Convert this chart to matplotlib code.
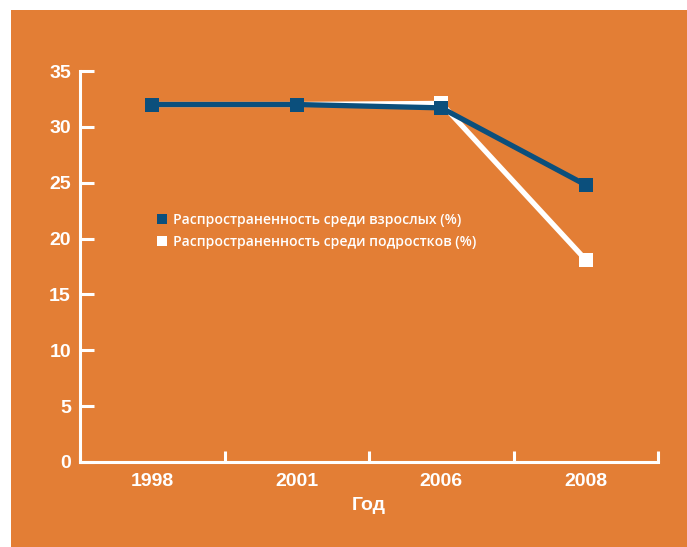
import matplotlib
matplotlib.use("Agg")
import matplotlib.pyplot as plt
from matplotlib.patches import Rectangle
from matplotlib.lines import Line2D

years = ["1998", "2001", "2006", "2008"]
adults = [32.0, 32.0, 31.7, 24.8]
teens = [32.0, 32.0, 32.1, 18.1]
labels = ["Распространенность среди взрослых (%)",
          "Распространенность среди подростков (%)"]

orange = "#E37E35"
blue = "#0B4F7C"

fig = plt.figure(figsize=(6.87, 5.47), dpi=100)
fig.patch.set_facecolor("white")
fig.patches.append(Rectangle((11/687, 0), 1 - 11/687, 1 - 10/547,
                             transform=fig.transFigure, facecolor=orange,
                             edgecolor="none", zorder=-10))

ax = fig.add_axes([80/687, 1 - 462/547, 578/687, 391/547])
ax.set_zorder(1)
ax.set_facecolor("none")
x = range(len(years))

ax.plot(x, teens, color="white", lw=3.8, marker="s", ms=10.5,
        markeredgewidth=0, solid_joinstyle="miter", zorder=3, clip_on=False)
ax.plot(x, adults, color=blue, lw=3.8, marker="s", ms=10.5,
        markeredgewidth=0, solid_joinstyle="miter", zorder=4, clip_on=False)

ax.set_xlim(-0.5, len(years) - 0.5)
ax.set_ylim(0, 35)
ax.set_yticks(range(0, 36, 5))
ax.set_xticks([i + 0.5 for i in range(-1, len(years))])
ax.set_xticklabels([])
ax.set_xticks(list(x), minor=True)
ax.set_xticklabels(years, minor=True)

for s in ["top", "right"]:
    ax.spines[s].set_visible(False)
for s in ["left", "bottom"]:
    ax.spines[s].set_color("white")
    ax.spines[s].set_linewidth(2.2)

ax.tick_params(axis="y", direction="in", length=10, width=2.2, color="white",
               labelcolor="white", labelsize=14, pad=6.5)
ax.tick_params(axis="x", which="major", direction="in", length=8, width=2.2,
               color="white")
ax.tick_params(axis="x", which="minor", length=0, labelcolor="white",
               labelsize=14, pad=8)
for lab in ax.get_yticklabels() + ax.get_xticklabels(minor=True):
    lab.set_fontfamily("Liberation Sans")
    lab.set_fontweight("bold")

ax.set_xlabel("Год", color="white", fontsize=14, fontweight="bold",
              family="Liberation Sans", labelpad=5)

handles = [Line2D([], [], ls="none", marker="s", ms=7.6, color=blue, markeredgewidth=0),
           Line2D([], [], ls="none", marker="s", ms=7.6, color="white", markeredgewidth=0)]
leg = ax.legend(handles, labels, loc="upper left", bbox_to_anchor=(0.135, 0.636),
                frameon=False, borderaxespad=0, borderpad=0, handlelength=0.6,
                handletextpad=0.45, labelspacing=0.55,
                prop={"family": "Open Sans", "weight": "semibold", "size": 10.1})
for t in leg.get_texts():
    t.set_color("white")

fig.savefig("out.png", dpi=100, facecolor=fig.get_facecolor())
